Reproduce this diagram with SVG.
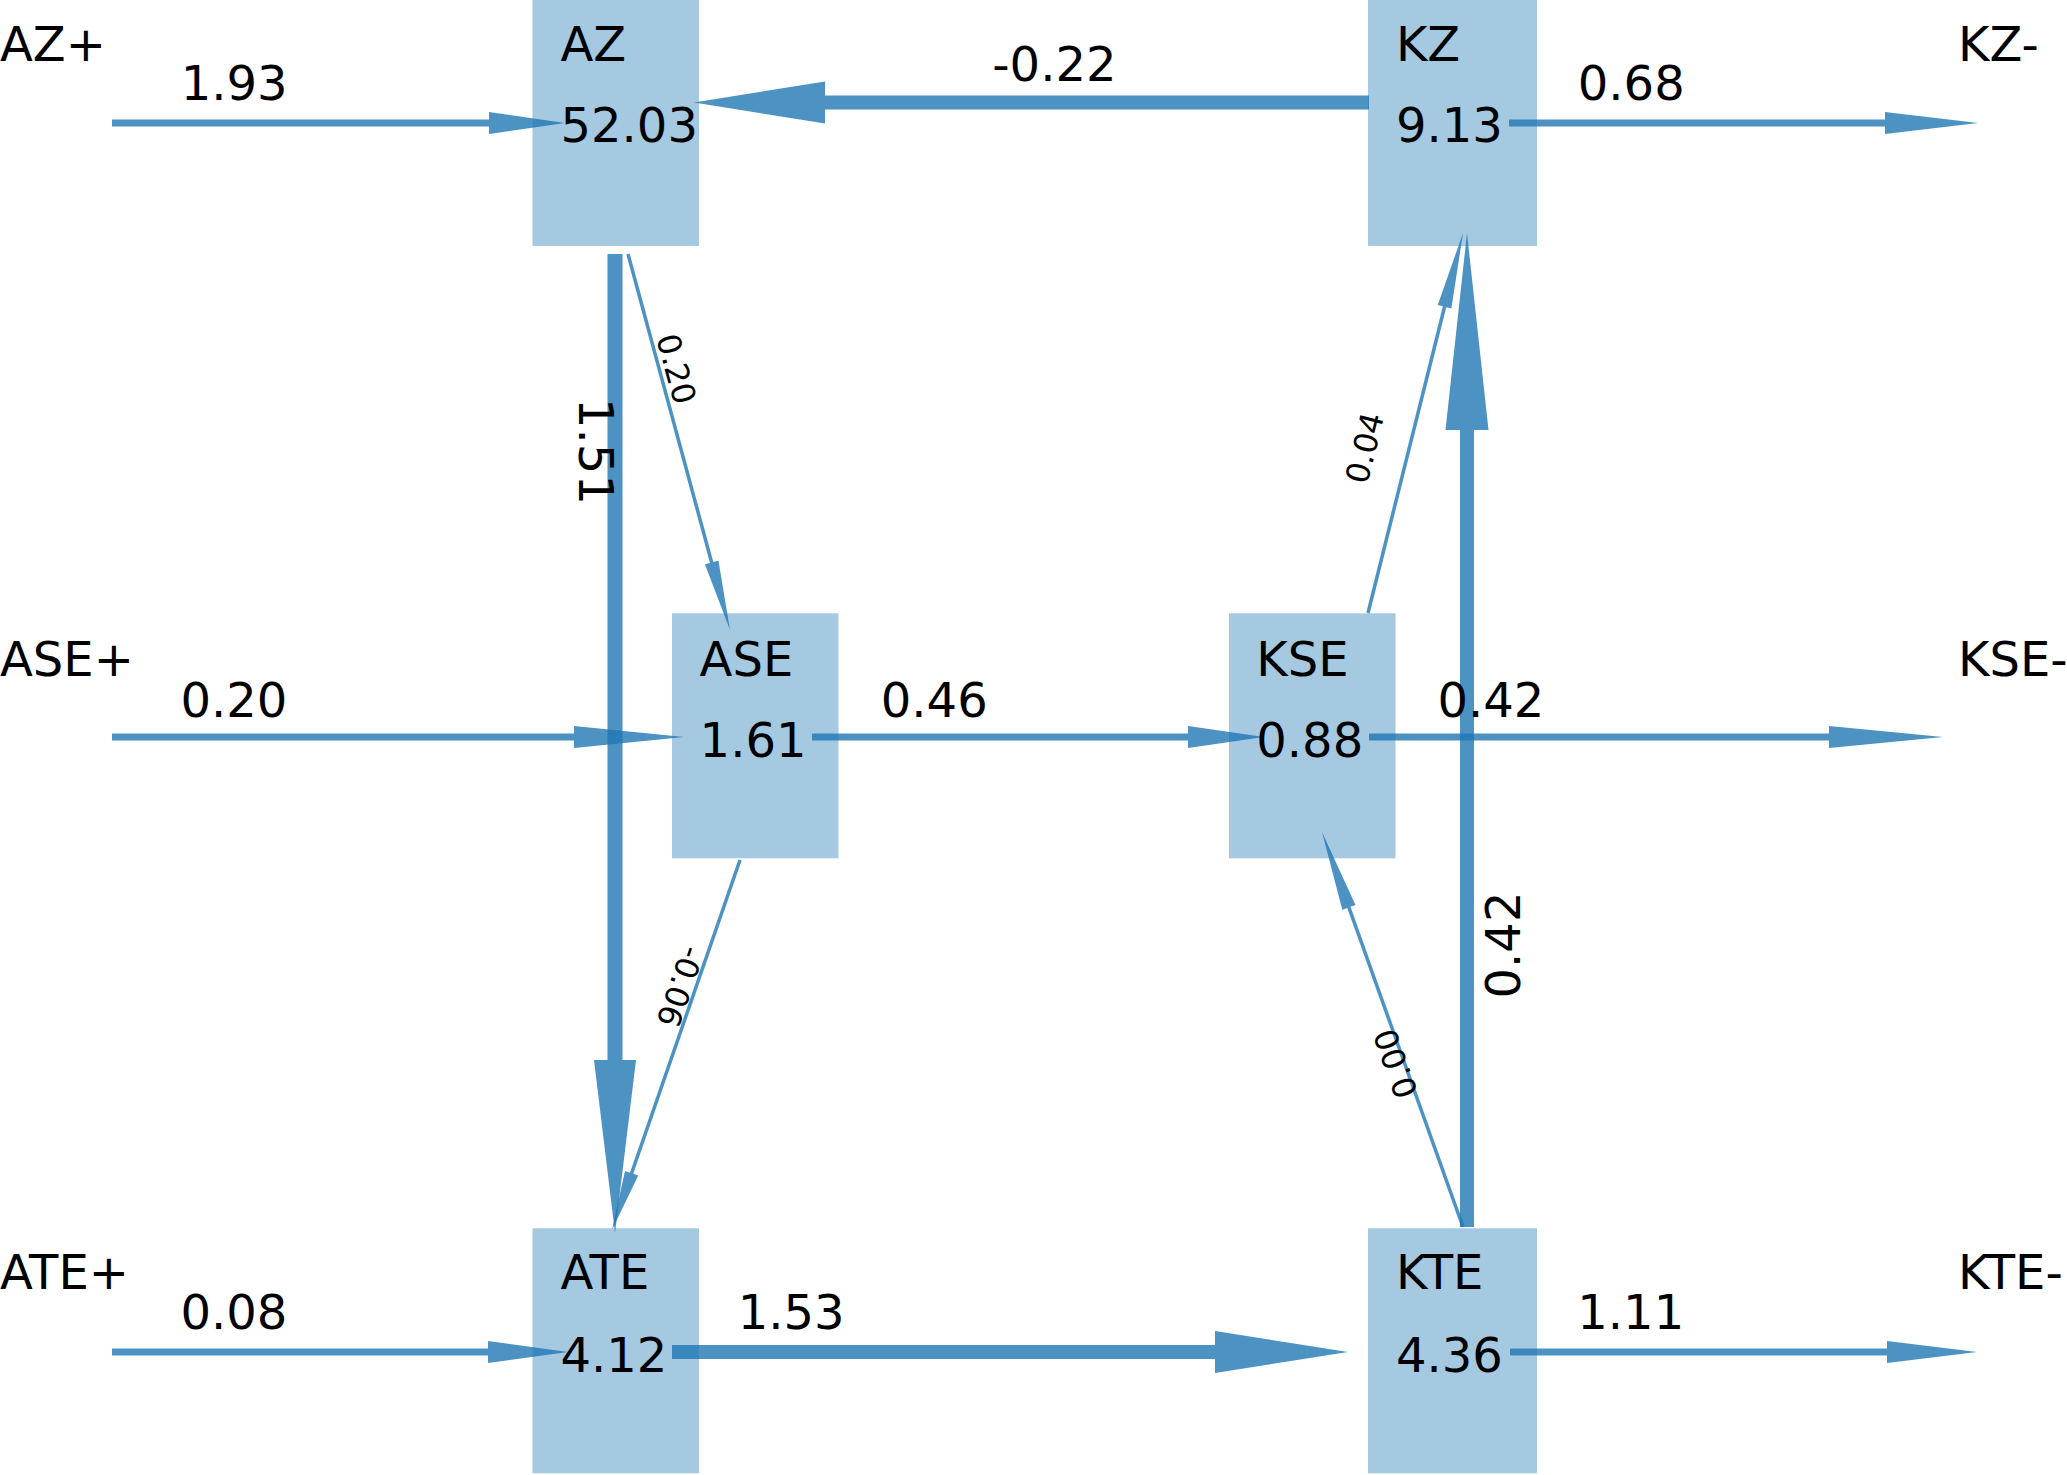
<svg xmlns="http://www.w3.org/2000/svg" width="2067" height="1475" viewBox="0 0 2067 1475">
<style>
  .box { fill: #1f77b4; fill-opacity: 0.4; }
  .arr { fill: #1f77b4; fill-opacity: 0.8; }
  text { font-family: "DejaVu Sans", "Liberation Sans", sans-serif; fill: #000; }
  .big { font-size: 48px; }
  .small { font-size: 32px; }
  .rot { text-anchor: middle; dominant-baseline: central; }
</style>
<rect width="2067" height="1475" fill="#ffffff"/>
<g id="connectors">
  <polygon id="e-AZp-AZ" class="arr" points="112,119.5 489,119.5 489,112 565,123 489,134 489,126.5 112,126.5"/>
  <polygon id="e-ASEp-ASE" class="arr" points="112,733.5 574,733.5 574,726 684,737 574,748 574,740.5 112,740.5"/>
  <polygon id="e-ATEp-ATE" class="arr" points="112,1348.5 488,1348.5 488,1341 568,1352 488,1363 488,1355.5 112,1355.5"/>
  <polygon id="e-KZ-KZm" class="arr" points="1509,119.5 1885,119.5 1885,112 1978,123 1885,134 1885,126.5 1509,126.5"/>
  <polygon id="e-KSE-KSEm" class="arr" points="1369,733.5 1829,733.5 1829,726 1943,737 1829,748 1829,740.5 1369,740.5"/>
  <polygon id="e-KTE-KTEm" class="arr" points="1510,1348.5 1887,1348.5 1887,1341 1977,1352 1887,1363 1887,1355.5 1510,1355.5"/>
  <polygon id="e-ASE-KSE" class="arr" points="812,733.5 1188,733.5 1188,726 1264,737 1188,748 1188,740.5 812,740.5"/>
  <polygon id="e-KZ-AZ" class="arr" points="1369,95.5 825,95.5 825,81.5 694,102.5 825,123.5 825,109.5 1369,109.5"/>
  <polygon id="e-AZ-ATE" class="arr" points="607.5,254 607.5,1060 594,1060 615,1233 636,1060 622.5,1060 622.5,254"/>
  <polygon id="e-ATE-KTE" class="arr" points="672,1345 1215,1345 1215,1331 1348,1352 1215,1373 1215,1359 672,1359"/>
  <polygon id="e-KTE-KZ" class="arr" points="1460,1227 1460,430 1445.5,430 1467,233 1488.5,430 1474,430 1474,1227"/>
  <polygon id="e-AZ-ASE" class="arr" points="626.31,254.46 709.98,562.90 704.91,564.27 730,630 718.43,560.61 713.36,561.98 629.69,253.54"/>
  <polygon id="e-ASE-ATE" class="arr" points="738.35,859.43 629.96,1172.72 625.00,1171.00 612,1230 638.23,1175.58 633.27,1173.86 741.65,860.57"/>
  <polygon id="e-KSE-KZ" class="arr" points="1369.70,613.42 1446.27,307.15 1451.36,308.43 1463,233 1437.78,305.03 1442.87,306.31 1366.30,612.58"/>
  <polygon id="e-KTE-KSE" class="arr" points="1464.65,1226.41 1350.55,906.75 1355.49,904.99 1322,832 1342.31,909.69 1347.25,907.93 1461.35,1227.59"/>
</g>
<g id="edge-labels">
  <text class="big" x="180.7" y="100">1.93</text>
  <text class="big" x="992.3" y="81">-0.22</text>
  <text class="big" x="1577.8" y="100">0.68</text>
  <text class="big" x="180.5" y="716.7">0.20</text>
  <text class="big" x="880.8" y="716.7">0.46</text>
  <text class="big" x="1437.5" y="716.7">0.42</text>
  <text class="big" x="180.5" y="1329">0.08</text>
  <text class="big" x="737.7" y="1329">1.53</text>
  <text class="big" x="1577.3" y="1329">1.11</text>
  <text class="big rot" x="596" y="451.5" transform="rotate(90 596 451.5)">1.51</text>
  <text class="big rot" x="1502.5" y="945" transform="rotate(-90 1502.5 945)">0.42</text>
  <text class="small rot" x="676" y="369" transform="rotate(74.8 676 369)">0.20</text>
  <text class="small rot" x="1365" y="448" transform="rotate(-76 1365 448)">0.04</text>
  <text class="small rot" x="680" y="986.5" transform="rotate(109 680 986.5)">-0.06</text>
  <text class="small rot" x="1396" y="1063.5" transform="rotate(-109.6 1396 1063.5)">0.00</text>
</g>
<g id="sources">
  <text id="AZp" class="big" x="0" y="61">AZ+</text>
  <text id="ASEp" class="big" x="0" y="676">ASE+</text>
  <text id="ATEp" class="big" x="0" y="1289">ATE+</text>
  <text id="KZm" class="big" x="1958" y="61">KZ-</text>
  <text id="KSEm" class="big" x="1958" y="676">KSE-</text>
  <text id="KTEm" class="big" x="1958" y="1289">KTE-</text>
</g>
<g id="node-AZ">
  <rect class="box" x="532.5" y="-1" width="166.5" height="247"/>
  <text class="big" x="560.5" y="61">AZ</text>
  <text class="big" x="560.5" y="141.7">52.03</text>
</g>
<g id="node-KZ">
  <rect class="box" x="1368" y="-1" width="169" height="247"/>
  <text class="big" x="1395.9" y="61">KZ</text>
  <text class="big" x="1395.9" y="141.7">9.13</text>
</g>
<g id="node-ASE">
  <rect class="box" x="672" y="613.3" width="166.5" height="245"/>
  <text class="big" x="699.6" y="676">ASE</text>
  <text class="big" x="699.6" y="756.7">1.61</text>
</g>
<g id="node-KSE">
  <rect class="box" x="1229" y="613.3" width="166.5" height="245"/>
  <text class="big" x="1256.3" y="676">KSE</text>
  <text class="big" x="1256.3" y="756.7">0.88</text>
</g>
<g id="node-ATE">
  <rect class="box" x="532.5" y="1228.3" width="166.5" height="245"/>
  <text class="big" x="560.5" y="1289">ATE</text>
  <text class="big" x="560.5" y="1371.7">4.12</text>
</g>
<g id="node-KTE">
  <rect class="box" x="1368" y="1228.3" width="169" height="245"/>
  <text class="big" x="1395.9" y="1289">KTE</text>
  <text class="big" x="1395.9" y="1371.7">4.36</text>
</g>
</svg>
